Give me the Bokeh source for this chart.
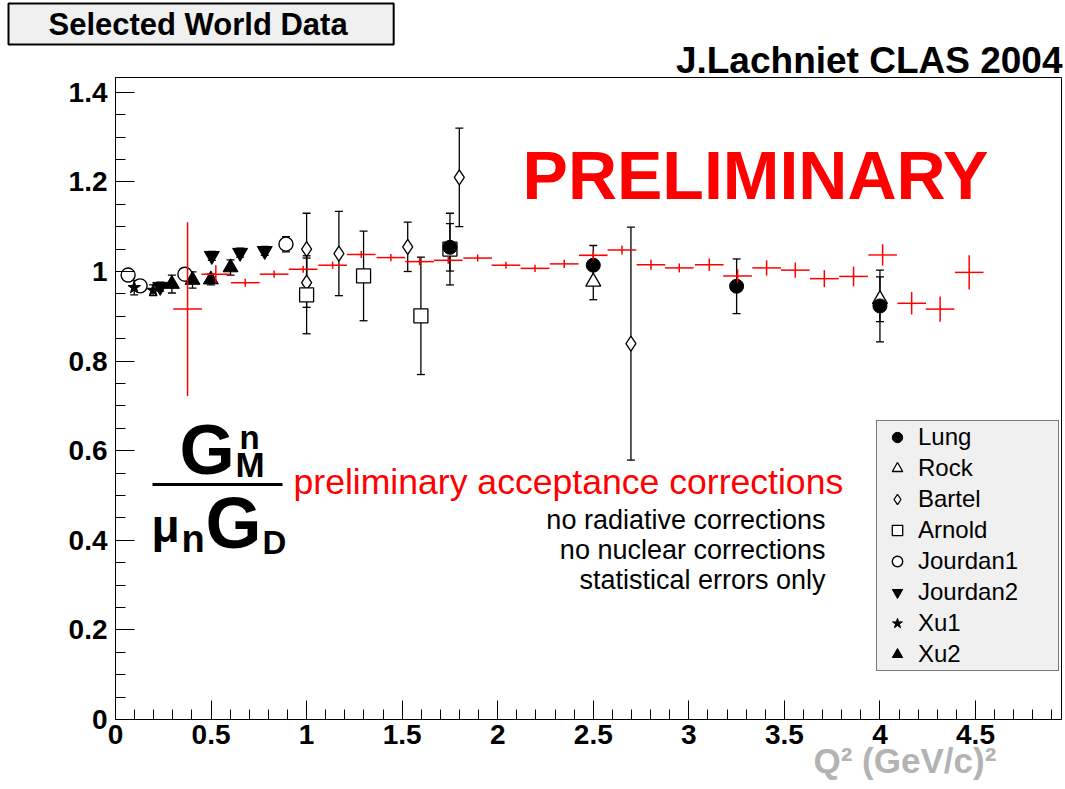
import numpy as np
from bokeh.plotting import figure
from bokeh.models import (Range1d, FixedTicker, Label, BoxAnnotation, Legend,
                          LegendItem, CustomJSTickFormatter, Title)
from bokeh.embed import file_html
from bokeh.resources import INLINE

# ---------------- data ----------------
clas_q2 = [0.377, 0.525, 0.679, 0.830, 0.982, 1.136, 1.286, 1.441, 1.591, 1.741,
           1.895, 2.043, 2.195, 2.348, 2.500, 2.650, 2.802, 2.950, 3.107, 3.255,
           3.407, 3.557, 3.709, 3.862, 4.014, 4.166, 4.315, 4.467]
clas_r = [0.916, 0.994, 0.975, 0.994, 1.005, 1.014, 1.038, 1.031, 1.022, 1.025,
          1.030, 1.014, 1.007, 1.017, 1.036, 1.048, 1.015, 1.008, 1.015, 0.990,
          1.008, 1.003, 0.984, 0.989, 1.037, 0.929, 0.916, 0.998]
clas_err = [0.194, 0.020, 0.009, 0.008, 0.008, 0.008, 0.008, 0.008, 0.008, 0.008,
            0.008, 0.008, 0.008, 0.009, 0.010, 0.010, 0.011, 0.010, 0.014, 0.015,
            0.017, 0.017, 0.019, 0.022, 0.024, 0.025, 0.028, 0.038]
clas_halfbin = [0.075] * len(clas_q2)

lung_q2 = [1.75, 2.5, 3.25, 4.0]
lung_r = [1.054, 1.014, 0.967, 0.923]
lung_err = [0.053, 0.044, 0.061, 0.080]

rock_q2 = [2.5, 4.0]
rock_r = [0.977, 0.938]
rock_err = [0.040, 0.050]

bartel_q2 = [1.0, 1.0, 1.169, 1.529, 1.799, 2.697]
bartel_r = [1.050, 0.975, 1.040, 1.055, 1.210, 0.839]
bartel_err = [0.080, 0.055, 0.094, 0.055, 0.110, 0.260]

arnold_q2 = [1.0, 1.298, 1.598, 1.75]
arnold_r = [0.948, 0.990, 0.901, 1.050]
arnold_err = [0.087, 0.100, 0.131, 0.080]

jourdan1_q2 = [0.066, 0.129, 0.363, 0.892]
jourdan1_r = [0.992, 0.968, 0.994, 1.061]
jourdan1_err = [0.012, 0.012, 0.012, 0.017]

jourdan2_q2 = [0.234, 0.504, 0.652, 0.781]
jourdan2_r = [0.966, 1.035, 1.042, 1.046]
jourdan2_err = [0.010, 0.010, 0.010, 0.010]

xu1_q2 = [0.098, 0.197]
xu1_r = [0.964, 0.958]
xu1_err = [0.016, 0.012]

xu2_q2 = [0.295, 0.403, 0.499, 0.602]
xu2_r = [0.972, 0.981, 0.982, 1.009]
xu2_err = [0.020, 0.018, 0.012, 0.017]

x_ticks = [0, 0.5, 1, 1.5, 2, 2.5, 3, 3.5, 4, 4.5]
y_ticks = [0, 0.2, 0.4, 0.6, 0.8, 1, 1.2, 1.4]

# ---------------- figure ----------------
XMAX, YMAX = 4.95, 1.433
FL, FT, FW, FH = 115, 77, 946, 642
W, H = 1065, 789

p = figure(width=W, height=H, output_backend="svg", toolbar_location=None,
           x_range=Range1d(0, XMAX), y_range=Range1d(0, YMAX),
           min_border_left=FL, min_border_right=W - FL - FW,
           min_border_top=FT, min_border_bottom=H - FT - FH)
p.xgrid.visible = False
p.ygrid.visible = False
p.outline_line_color = "black"
p.outline_line_width = 1
p.background_fill_color = "white"
p.border_fill_color = "white"

fmt = CustomJSTickFormatter(code="return String(tick);")
p.xaxis.ticker = FixedTicker(ticks=x_ticks, minor_ticks=[round(0.1 * k, 2) for k in range(50)])
p.yaxis.ticker = FixedTicker(ticks=y_ticks, minor_ticks=[round(0.05 * k, 2) for k in range(29)])
for ax in (p.xaxis, p.yaxis):
    ax.formatter = fmt
    ax.major_tick_in = 19
    ax.major_tick_out = 0
    ax.minor_tick_in = 10
    ax.minor_tick_out = 0
    ax.axis_line_color = "black"
    ax.major_tick_line_color = "black"
    ax.minor_tick_line_color = "black"
    ax.major_label_text_font = "Liberation Sans"
    ax.major_label_text_font_style = "bold"
    ax.major_label_text_font_size = "28px"
    ax.major_label_text_color = "black"
p.xaxis.major_label_standoff = 5
p.yaxis.major_label_standoff = 8

FX = FW / XMAX
FY = FH / YMAX
def X(px):
    return (px - FL) / FX
def Y(py):
    return (FT + FH - py) / FY

# ---------------- helpers ----------------
def errbars(q, r, e):
    q = np.array(q); r = np.array(r); e = np.array(e)
    p.segment(x0=q, y0=r - e, x1=q, y1=r + e, line_color="black", line_width=1.3)
    p.scatter(x=np.concatenate([q, q]), y=np.concatenate([r - e, r + e]),
              marker="dash", size=8, line_color="black", line_width=1.3)

for q, r, e in [(bartel_q2, bartel_r, bartel_err), (arnold_q2, arnold_r, arnold_err),
                (lung_q2, lung_r, lung_err), (rock_q2, rock_r, rock_err),
                (jourdan1_q2, jourdan1_r, jourdan1_err), (jourdan2_q2, jourdan2_r, jourdan2_err),
                (xu1_q2, xu1_r, xu1_err), (xu2_q2, xu2_r, xu2_err)]:
    errbars(q, r, e)

r_bartel = p.scatter(bartel_q2, bartel_r, marker="diamond", size=15,
                     fill_color="white", line_color="black", line_width=1.3)
r_arnold = p.scatter(arnold_q2, arnold_r, marker="square", size=14,
                     fill_color="white", line_color="black", line_width=1.3)
r_rock = p.scatter(rock_q2, rock_r, marker="triangle", size=15,
                   fill_color="white", line_color="black", line_width=1.3)
r_lung = p.scatter(lung_q2, lung_r, marker="circle", size=14,
                   fill_color="black", line_color="black")
r_j1 = p.scatter(jourdan1_q2, jourdan1_r, marker="circle", size=14,
                 fill_color="white", line_color="black", line_width=1.4)
r_j2 = p.scatter(jourdan2_q2, jourdan2_r, marker="inverted_triangle", size=15,
                 fill_color="black", line_color="black")
r_xu1 = p.scatter(xu1_q2, xu1_r, marker="star", size=13,
                  fill_color="black", line_color="black")
r_xu2 = p.scatter(xu2_q2, xu2_r, marker="triangle", size=15,
                  fill_color="black", line_color="black")

# CLAS preliminary (red crosses)
cq = np.array(clas_q2); cr = np.array(clas_r); ce = np.array(clas_err); cb = np.array(clas_halfbin)
p.segment(x0=cq - cb, y0=cr, x1=cq + cb, y1=cr, line_color="red", line_width=1.5)
p.segment(x0=cq, y0=cr - ce, x1=cq, y1=cr + ce, line_color="red", line_width=1.5)

# ---------------- legend ----------------
legend = Legend(items=[
    LegendItem(label="Lung", renderers=[r_lung]),
    LegendItem(label="Rock", renderers=[r_rock]),
    LegendItem(label="Bartel", renderers=[r_bartel]),
    LegendItem(label="Arnold", renderers=[r_arnold]),
    LegendItem(label="Jourdan1", renderers=[r_j1]),
    LegendItem(label="Jourdan2", renderers=[r_j2]),
    LegendItem(label="Xu1", renderers=[r_xu1]),
    LegendItem(label="Xu2", renderers=[r_xu2]),
], location=(876 - FL, FT + FH - 671))
legend.border_line_color = "black"
legend.border_line_width = 1
legend.background_fill_color = "#f0f0f0"
legend.background_fill_alpha = 1
legend.label_text_font = "Liberation Sans"
legend.label_text_font_size = "24px"
legend.label_text_color = "black"
legend.glyph_width = 36
legend.glyph_height = 26
legend.label_standoff = 3
legend.padding = 2
legend.spacing = 3
legend.margin = 0
legend.label_width = 138
p.add_layout(legend)

# ---------------- titles outside the frame ----------------
p.title.text = "Selected World Data"
p.title.align = "left"
p.title.offset = 8 - FL
p.title.text_font = "Liberation Sans"
p.title.text_font_style = "bold"
p.title.text_font_size = "31px"
p.title.text_color = "black"
p.title.background_fill_color = "#f0f0f0"
p.title.border_line_color = "black"
p.title.border_line_width = 2
p.title.padding = dict(left=40, right=46, top=3, bottom=3)
p.title.standoff = 0

jt = Title(text="J.Lachniet CLAS 2004", align="right", offset=-1,
           text_font="Liberation Sans", text_font_style="bold",
           text_font_size="37px", text_color="black",
           vertical_align="top", standoff=-10)
p.add_layout(jt, "above")

xt = Title(text="Q\u00b2 (GeV/c)\u00b2", align="left", offset=813 - FL,
           text_font="Liberation Sans", text_font_style="bold",
           text_font_size="35px", text_color="#b3b3b3",
           vertical_align="top", standoff=-12)
p.add_layout(xt, "below")

# ---------------- labels inside the frame ----------------
def lab(px, py, text, size, color="black", bold=False, align="left"):
    p.add_layout(Label(x=X(px), y=Y(py - 0.38 * size), text=text, text_font="Liberation Sans",
                       text_font_size=f"{size}px", text_color=color,
                       text_font_style="bold" if bold else "normal",
                       text_align=align, text_baseline="alphabetic"))

lab(755, 200, "PRELIMINARY", 68, color="red", bold=True, align="center")

# y-axis quantity as a fraction
lab(179, 476, "G", 71, bold=True)
lab(239, 450, "n", 33, bold=True)
lab(235, 477, "M", 35, bold=True)
p.add_layout(BoxAnnotation(left=X(152), right=X(282), top=Y(482.5), bottom=Y(485.5),
                           fill_color="black", fill_alpha=1, line_alpha=0))
lab(151, 543, "\u03bc", 46, bold=True)
lab(181, 553, "n", 38, bold=True)
lab(205, 550, "G", 72, bold=True)
lab(262, 555, "D", 33, bold=True)

lab(293, 495, "preliminary acceptance corrections", 35.6, color="red")
lab(825, 530, "no radiative corrections", 27, align="right")
lab(825, 560, "no nuclear corrections", 27, align="right")
lab(825, 590, "statistical errors only", 27, align="right")

open("out.html", "w").write(file_html(p, INLINE))
